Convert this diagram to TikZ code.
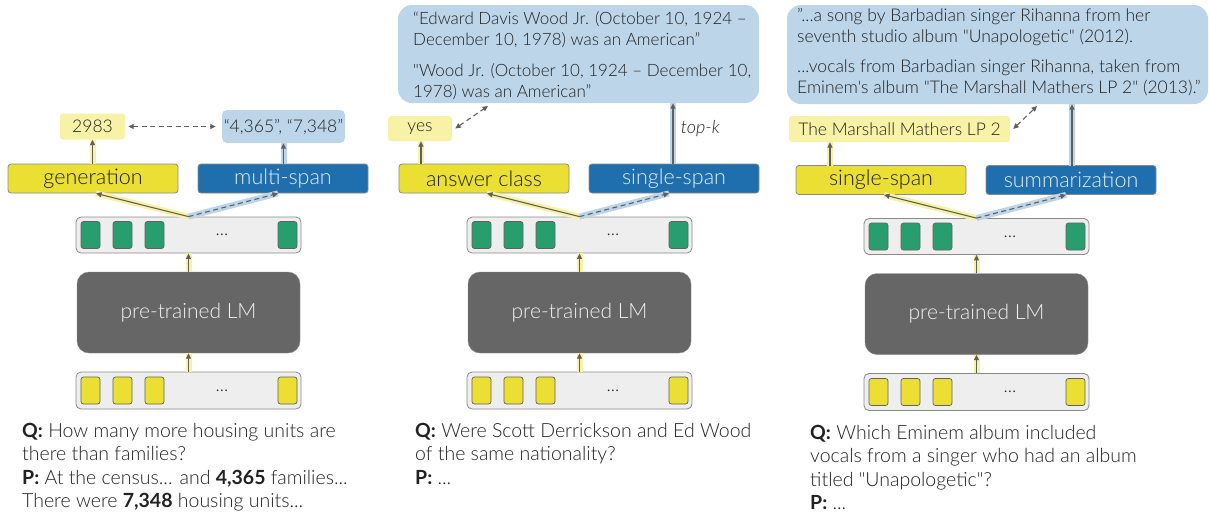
\documentclass[tikz,border=0pt]{standalone}
\usepackage{fontspec}
\setmainfont{Lato}[UprightFont=* Light, BoldFont=* Bold, ItalicFont=* Light Italic, Ligatures=TeXOff]
\usetikzlibrary{arrows.meta}
\definecolor{ybright}{HTML}{EBDF33}
\definecolor{ylight}{HTML}{F8F2A6}
\definecolor{bdark}{HTML}{1F6FAE}
\definecolor{blight}{HTML}{BCD5E8}
\definecolor{lmgray}{HTML}{666666}
\definecolor{rowfill}{HTML}{EEEEEE}
\definecolor{bordergray}{HTML}{8A8A8A}
\definecolor{tokgreen}{HTML}{289E6E}
\definecolor{arrgray}{HTML}{5F5F5F}
\definecolor{txt}{HTML}{222222}
\tikzset{
  headY/.style={draw=bordergray, fill=ybright, rounded corners=3pt, minimum width=170pt, minimum height=29pt, inner sep=0pt, font=\fontsize{21.5}{25}\selectfont, text=txt, line width=0.8pt},
  headB/.style={headY, fill=bdark, text=white!88!bdark},
  tokrow/.style={draw=bordergray, fill=rowfill, rounded corners=5pt, minimum width=225pt, minimum height=36pt, inner sep=0pt, line width=0.8pt},
  tok/.style={draw=bordergray!70!black, rounded corners=2.5pt, minimum width=19pt, minimum height=27pt, inner sep=0pt, line width=0.7pt},
  lmbox/.style={fill=lmgray, draw=bordergray, rounded corners=12pt, minimum width=223pt, minimum height=81pt, text=white!90!lmgray, font=\fontsize{21}{25}\selectfont},
  outY/.style={fill=ylight, rounded corners=3pt, inner sep=0pt, minimum height=26pt, font=\fontsize{17.5}{21}\selectfont, text=txt},
  outB/.style={fill=blight, rounded corners=5pt, inner sep=0pt, font=\fontsize{17.5}{21}\selectfont, text=txt},
  bigB/.style={fill=blight, rounded corners=14pt, inner sep=0pt, align=left, font=\fontsize{17.5}{21}\selectfont, text=txt},
  dotstext/.style={font=\fontsize{18}{20}\selectfont, text=txt, inner sep=0pt},
  hlY/.style={ylight, line width=6pt},
  hlB/.style={blight, line width=6pt},
  arrow/.style={arrgray, line width=1.1pt, -{Triangle[length=5.5pt,width=5pt]}},
  dasharrow/.style={arrow, dash pattern=on 5pt off 3.5pt},
  dblarrow/.style={arrgray, line width=1.1pt, dash pattern=on 5pt off 3.5pt, {Triangle[length=5.5pt,width=5pt]}-{Triangle[length=5.5pt,width=5pt]}},
  qtext/.style={anchor=north west, inner sep=0pt, align=left, font=\fontsize{19.5}{23.5}\selectfont, text=txt},
}
\newcommand\panelbody[3]{%
  \node[tokrow] (#1top) at (188.5,235) {};
  \foreach \x/\k in {90.5/a,122.5/b,154.5/c,287.5/d} \node[tok, fill=tokgreen] (#1t\k) at (\x,235) {};
  \node[dotstext] (#1tdots) at (222,235) {...};
  \node[lmbox] (#1lm) at (188.5,312.5) {pre-trained LM};
  \node[tokrow, minimum height=37pt] (#1in) at (188.5,390.5) {};
  \foreach \x/\k in {90.5/a,122.5/b,154.5/c,287.5/d} \node[tok, fill=ybright] (#1i\k) at (\x,390.5) {};
  \node[dotstext] (#1idots) at (222,390.5) {...};
  \node[headY] (#1hl) at (93,178.5) {#2};
  \node[headB] (#1hr) at (283,178.5) {#3};
  \draw[hlY] (#1in.north) -- (#1lm.south);
  \draw[arrow] (#1in.north) -- (#1lm.south);
  \draw[hlY] (#1lm.north) -- (#1top.south);
  \draw[arrow] (#1lm.north) -- (#1top.south);
  \draw[hlY] (#1top.north) -- ([xshift=3pt]#1hl.south);
  \draw[hlB] (#1top.north) -- ([xshift=-5pt]#1hr.south);
  \draw[arrow] (#1top.north) -- ([xshift=3pt]#1hl.south);
  \draw[dasharrow] (#1top.north) -- ([xshift=-5pt]#1hr.south);
}
\begin{document}
\begin{tikzpicture}[x=1pt,y=-1pt]
\useasboundingbox (0,0) rectangle (1209,512);
% ---------- panel 1 ----------
\panelbody{a}{generation}{multi-span}
\node[outY, minimum width=65pt] (aout) at (92.5,126.5) {2983};
\node[outB, minimum width=123pt, minimum height=33pt] (aspans) at (283.5,126.5) {“4,365”, “7,348”};
\draw[hlY] (aout.south |- ahl.north) -- (aout.south);
\draw[arrow] (aout.south |- ahl.north) -- (aout.south);
\draw[hlB] (aspans.south |- ahr.north) -- (aspans.south);
\draw[arrow] (aspans.south |- ahr.north) -- (aspans.south);
\draw[dblarrow] ([xshift=3pt]aout.east) -- ([xshift=-6pt]aspans.west);
\node[qtext] (aq) at (22,423) {\textbf{Q:} How many more housing units are\\there than families?\\\textbf{P:} At the census... and \textbf{4,365} families...\\There were \textbf{7,348} housing units...};
% ---------- panel 2 ----------
\begin{scope}[xshift=391pt]
\panelbody{b}{answer class}{single-span}
\end{scope}
\node[bigB, minimum width=361pt, minimum height=98pt] (bbig) at (578.5,54) {};
\node[bigB, fill=none, anchor=north west, font=\fontsize{17}{21}\selectfont] (bbigtext) at (413,11)
  {“Edward Davis Wood Jr. (October 10, 1924 –\\December 10, 1978) was an American”\\[10pt]"Wood Jr. (October 10, 1924 – December 10,\\1978) was an American”};
\node[outY, minimum width=64pt, minimum height=25pt] (bout) at (420,128.5) {yes};
\coordinate (byesfoot) at (421,164);
\draw[hlY] (byesfoot) -- (byesfoot |- bout.south);
\draw[arrow] (byesfoot) -- (byesfoot |- bout.south);
\coordinate (bspanfoot) at (673,164);
\draw[hlB] (bspanfoot) -- (bspanfoot |- bbig.south);
\draw[arrow] (bspanfoot) -- (bspanfoot |- bbig.south) node[pos=0.58, right=4pt, font=\fontsize{18}{20}\selectfont\itshape, text=txt] (btopk) {top-k};
\coordinate (bbigfoot) at (488,106);
\draw[dblarrow] ([xshift=3pt]bout.east) -- (bbigfoot);
\node[qtext] (bq) at (415,423) {\textbf{Q:} Were Scott Derrickson and Ed Wood\\of the same nationality?\\\textbf{P:} ...};
% ---------- panel 3 ----------
\begin{scope}[xshift=788pt, yshift=-1.5pt]
\panelbody{c}{single-span}{summarization}
\end{scope}
\node[bigB, minimum width=421pt, minimum height=99pt] (cbig) at (997.5,54.5) {};
\node[bigB, fill=none, anchor=north west] (cbigtext) at (797,8)
  {”...a song by Barbadian singer Rihanna from her\\seventh studio album "Unapologetic" (2012).\\[9pt]...vocals from Barbadian singer Rihanna, taken from\\Eminem's album "The Marshall Mathers LP 2" (2013).”};
\node[outY, minimum width=221pt] (cout) at (899.5,129) {The Marshall Mathers LP 2};
\coordinate (cleftfoot) at (830,166);
\draw[hlY] (cleftfoot) -- (cleftfoot |- cout.south);
\draw[arrow] (cleftfoot) -- (cleftfoot |- cout.south);
\coordinate (crightfoot) at (1072,166);
\draw[hlB] (crightfoot) -- (crightfoot |- cbig.south);
\draw[arrow] (crightfoot) -- (crightfoot |- cbig.south);
\coordinate (cbigfoot) at (1037,106);
\draw[dblarrow] ([xshift=3pt]cout.east) -- (cbigfoot);
\node[qtext] (cq) at (810,425) {\textbf{Q:} Which Eminem album included\\vocals from a singer who had an album\\titled "Unapologetic"?\\\textbf{P:} ...};
\end{tikzpicture}
\end{document}
